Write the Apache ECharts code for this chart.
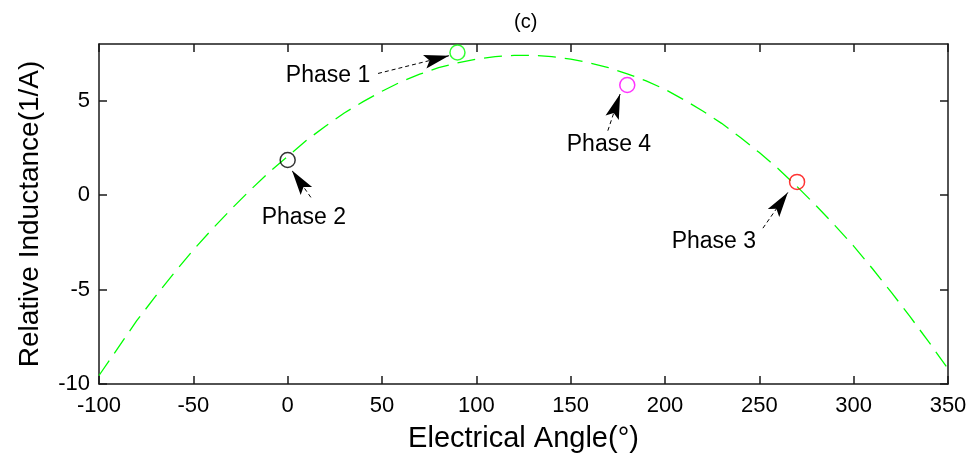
<!DOCTYPE html>
<html>
<head>
<meta charset="utf-8">
<script src="https://cdn.jsdelivr.net/npm/echarts@6/dist/echarts.min.js"></script>
<style>
  html, body { margin: 0; padding: 0; background: #fff; }
  #chart { width: 973px; height: 461px; }
</style>
</head>
<body>
<div id="chart"></div>
<script>
// Inductance curve sampled every 10 degrees
const angles = [-100, -90, -80, -70, -60, -50, -40, -30, -20, -10,
  0, 10, 20, 30, 40, 50, 60, 70, 80, 90,
  100, 110, 120, 130, 140, 150, 160, 170, 180, 190,
  200, 210, 220, 230, 240, 250, 260, 270, 280, 290,
  300, 310, 320, 330, 340, 350];
const inductance = [-9.55, -8.1, -6.65, -5.35, -4.1, -2.9, -1.8, -0.75, 0.25, 1.2,
  2.05, 2.9, 3.65, 4.35, 4.95, 5.5, 6.0, 6.4, 6.75, 7.0,
  7.2, 7.33, 7.4, 7.4, 7.33, 7.2, 7.0, 6.75, 6.42, 6.05,
  5.6, 5.05, 4.45, 3.8, 3.05, 2.25, 1.4, 0.45, -0.55, -1.6,
  -2.7, -3.9, -5.15, -6.45, -7.8, -9.2];

// Measured phase points
const phaseNames = ['Phase 1', 'Phase 2', 'Phase 3', 'Phase 4'];
const phaseAngles = [90, 0, 270, 180];
const phaseValues = [7.55, 1.86, 0.7, 5.83];
const phaseColors = ['#00ff00', '#000000', '#ff0000', '#ff00ff'];

// Annotation text anchors and arrow tails/tips (data units)
const labelAngles = [21.4, 8.6, 225.9, 170.3];
const labelValues = [6.35, -1.17, -2.49, 2.67];
const arrowTail = [[47.9, 6.44], [12.3, -0.12], [251.9, -1.75], [169.7, 3.41]];
const arrowTip = [[85.5, 7.38], [2.3, 1.3], [265.1, 0.14], [176.2, 5.35]];

const xTicks = [-100, -50, 0, 50, 100, 150, 200, 250, 300, 350];
const yTicks = [-10, -5, 0, 5];

const FONT = '"Liberation Sans", Arial, Helvetica, sans-serif';
const AXIS_COLOR = '#1a1a1a';
// Arrow head: tip at the symbol centre (an empty point pads the box)
const ARROW_HEAD = 'path://M0,0 L10,30 L0,24 L-10,30 Z M0,-30 L0.01,-30 Z';

const chart = echarts.init(document.getElementById('chart'), null, { renderer: 'canvas' });

const baseX = {
  type: 'value', min: -100, max: 350, interval: 50,
  axisLine: { show: true, onZero: false, lineStyle: { color: AXIS_COLOR, width: 1.5 } },
  axisTick: { show: true, inside: true, length: 8, lineStyle: { color: AXIS_COLOR, width: 1.5 } },
  splitLine: { show: false }
};
const baseY = {
  type: 'value', min: -10, max: 8,
  axisLine: { show: true, onZero: false, lineStyle: { color: AXIS_COLOR, width: 1.5 } },
  axisTick: { show: true, inside: true, length: 8, customValues: yTicks, lineStyle: { color: AXIS_COLOR, width: 1.5 } },
  splitLine: { show: false }
};

const arrowLines = arrowTail.map((t, i) => [
  { coord: t },
  { coord: arrowTip[i] }
]);

chart.setOption({
  animation: false,
  backgroundColor: '#ffffff',
  title: {
    text: '(c)', left: 509, top: 7,
    textStyle: { fontFamily: FONT, fontSize: 20, fontWeight: 'normal', color: '#000' }
  },
  grid: { left: 99, right: 25, top: 44, bottom: 77 },
  xAxis: [
    Object.assign({}, baseX, {
      position: 'bottom',
      name: 'Electrical Angle(°)', nameLocation: 'middle', nameGap: 40,
      nameTextStyle: { fontFamily: FONT, fontSize: 29, color: '#000' },
      axisLabel: { show: true, fontFamily: FONT, fontSize: 22, color: '#000', margin: 11,
        customValues: xTicks, hideOverlap: false }
    }),
    Object.assign({}, baseX, { position: 'top', axisLabel: { show: false } })
  ],
  yAxis: [
    Object.assign({}, baseY, {
      position: 'left',
      name: 'Relative Inductance(1/A)', nameLocation: 'middle', nameGap: 55,
      nameTextStyle: { fontFamily: FONT, fontSize: 28, color: '#000' },
      axisLabel: { show: true, fontFamily: FONT, fontSize: 22, color: '#000', margin: 9,
        customValues: yTicks }
    }),
    Object.assign({}, baseY, { position: 'right', axisLabel: { show: false } })
  ],
  series: [
    {
      type: 'line',
      data: angles.map((a, i) => [a, inductance[i]]),
      showSymbol: false,
      smooth: false,
      lineStyle: { color: '#00ff00', width: 1.3, type: [18, 9] },
      z: 2
    },
    {
      type: 'scatter',
      data: phaseAngles.map((a, i) => ({
        value: [a, phaseValues[i]],
        itemStyle: { color: 'rgba(0,0,0,0)', borderColor: phaseColors[i], borderWidth: 1.5 }
      })),
      symbol: 'circle',
      symbolSize: 15,
      z: 4
    },
    {
      type: 'scatter',
      silent: true,
      data: labelAngles.map((a, i) => ({ value: [a, labelValues[i]], name: phaseNames[i] })),
      symbolSize: 1,
      itemStyle: { color: '#ffffff', opacity: 0 },
      label: {
        show: true, position: 'inside', formatter: p => p.name,
        fontFamily: FONT, fontSize: 23, color: '#000000',
        textBorderWidth: 0, opacity: 1
      },
      markLine: {
        silent: true,
        animation: false,
        symbol: ['none', ARROW_HEAD],
        symbolSize: [14, 50],
        symbolKeepAspect: false,
        label: { show: false },
        lineStyle: { color: '#000', width: 1, type: [4, 3], opacity: 1 },
        itemStyle: { color: '#000', opacity: 1 },
        data: arrowLines
      },
      z: 5
    }
  ]
});
</script>
</body>
</html>
